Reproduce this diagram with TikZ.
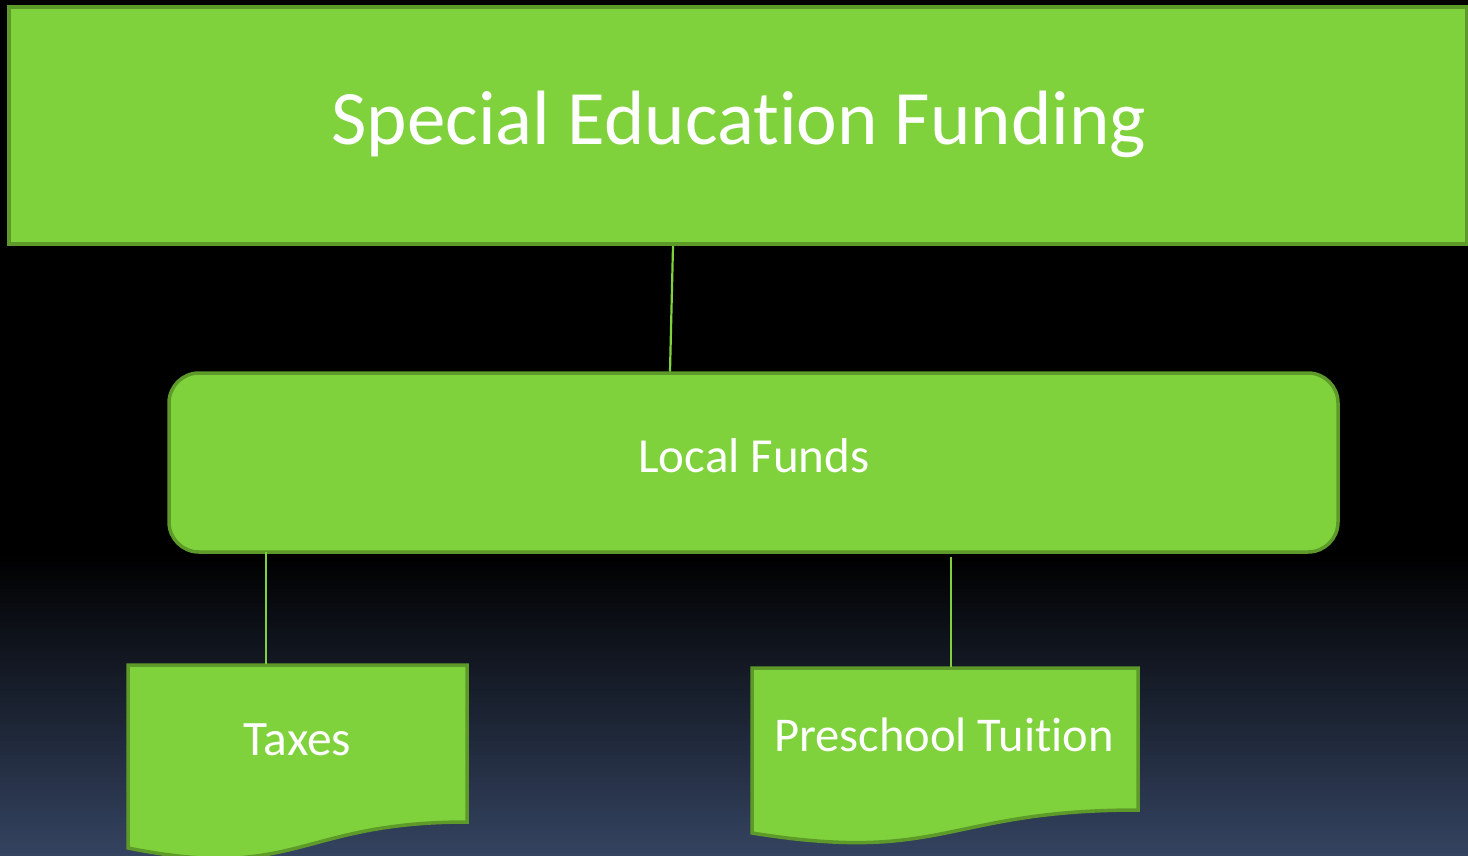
\documentclass[tikz,border=0pt]{standalone}
\usepackage{fontspec}
\setmainfont{Carlito}[Ligatures=NoCommon]
\usetikzlibrary{calc}
\definecolor{gfill}{RGB}{127,210,60}
\definecolor{gline}{RGB}{94,154,42}
\definecolor{bgbot}{RGB}{52,67,96}
\begin{document}
\begin{tikzpicture}[x=1pt,y=-1pt,
  box/.style={draw=gline, fill=gfill, line width=3.5pt, inner sep=0pt},
  conn/.style={draw=gfill, line width=2.2pt},
  txt/.style={text=white, inner sep=0pt, anchor=base}]
\useasboundingbox (0,0) rectangle (1468,855);
\fill[black] (0,0) rectangle (1468,855);
\shade[top color=black, bottom color=bgbot] (0,555) rectangle (1468,855);
% boxes
\node[box, minimum width=1458pt, minimum height=237pt] (top) at (738,125.5) {};
\node[box, rounded corners=30pt, minimum width=1169pt, minimum height=179pt] (local) at (753.5,462.5) {};
% document shapes
\draw[box] (128,665) -- (467,665) -- (467,822)
  .. controls (297.5,822) and (297.5,882) .. (128,848) -- cycle;
\draw[box] (752,668) -- (1138,668) -- (1138,810)
  .. controls (945,810) and (945,864) .. (752,833) -- cycle;
% connector end points
\coordinate (taxestop) at (266,663.5);
\coordinate (pretop) at (951,666.5);
\coordinate (prestart) at (951,557);
\coordinate (l1a) at (673,246);
\coordinate (l1b) at (670,371.5);
% connectors
\draw[conn] (l1a) -- (l1b);
\draw[conn] (local.south -| taxestop) ++(0,-1.5) -- (taxestop);
\draw[conn] (prestart) -- (pretop);
% texts
\node[txt, font=\fontsize{77}{90}\selectfont] (ttitle) at (739,144) {Special Education Funding};
\node[txt, font=\fontsize{49}{56}\selectfont] (tlocal) at (754,472) {Local Funds};
\node[txt, font=\fontsize{49.5}{56}\selectfont] (ttaxes) at (297.5,755) {Taxes};
\node[txt, font=\fontsize{48.5}{56}\selectfont] (tpre) at (944,751) {Preschool Tuition};
\end{tikzpicture}
\end{document}
